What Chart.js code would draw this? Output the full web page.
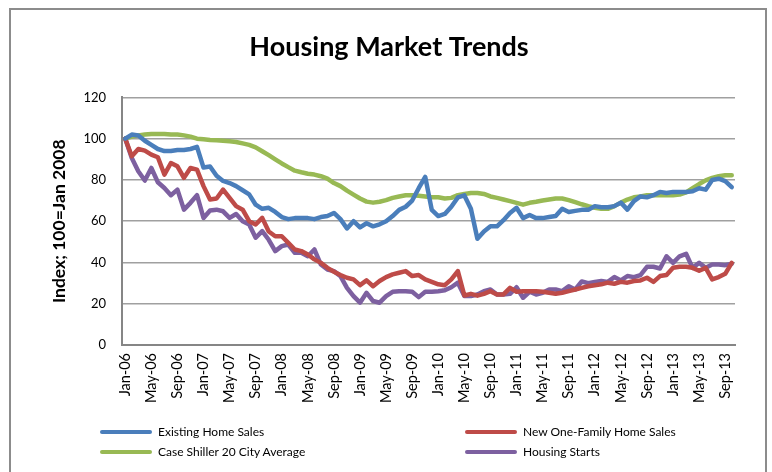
<!DOCTYPE html>
<html>
<head>
<meta charset="utf-8">
<title>Housing Market Trends</title>
<script src="https://cdn.jsdelivr.net/npm/chart.js@4.4.0/dist/chart.umd.min.js"></script>
<style>
  html, body { margin: 0; padding: 0; background: #fff; }
  #wrap { position: relative; width: 772px; height: 472px; overflow: hidden; }
  #frame {
    position: absolute; left: 9px; top: 8px; width: 758px; height: 490px;
    border: 2px solid #8c8c8c; box-sizing: border-box;
  }
  #chart { position: absolute; left: 0; top: 0; }
  .legend-item {
    position: absolute; display: flex; align-items: center;
    font-family: Lato, sans-serif; font-size: 12px; color: #000;
  }
  .legend-line { width: 52px; height: 4px; border-radius: 2px; margin-right: 6px; }
</style>
</head>
<body>
<div id="wrap">
  <div id="frame"></div>
  <canvas id="chart" width="772" height="472"></canvas>
</div>
<script>
// Housing market index series, Jan-06 .. Oct-13
const monthNames = ['Jan', 'Feb', 'Mar', 'Apr', 'May', 'Jun', 'Jul', 'Aug', 'Sep', 'Oct', 'Nov', 'Dec'];
const years = ['06', '07', '08', '09', '10', '11', '12', '13'];
const lastMonthIndex = 9; // data stops at Oct-13

const existingHomeSales = [
  100, 102, 101.5, 99, 97, 95, 94, 94, 94.5, 94.5, 95, 96,
  86, 86.5, 82, 79.5, 78.5, 77, 75, 73, 68, 66, 66.5, 64.5,
  62, 61, 61.5, 61.5, 61.5, 61, 62, 62.5, 64, 61, 56.5, 60,
  57, 59, 57.5, 58.5, 60, 62.5, 65.5, 67, 70, 76, 81.5, 65.5,
  62.5, 63.5, 67, 71.5, 72.5, 66, 51.5, 55, 57.5, 57.5, 60.5, 64,
  66.5, 61.5, 63, 61.5, 61.5, 62, 62.5, 66, 64.5, 65, 65.5, 65.5,
  67.3, 66.8, 66.8, 67.3, 69, 65.6, 69.7, 72, 71.6, 72.6, 74.2, 73.7,
  74.2, 74.2, 74.2, 74.5, 76, 75.3, 80, 80.6, 79.4, 76.5
];

const newHomeSales = [
  100, 91.5, 95, 94.2, 92.3, 91, 82.6, 88.2, 86.6, 81, 85.8, 85,
  77, 70.5, 71, 75.3, 71.3, 67.3, 65.6, 60, 58.4, 61.6, 55, 52.7,
  52.7, 49.5, 46.3, 45.5, 43.9, 41.5, 39.8, 37.4, 35.5, 33.9, 32.6, 31.8,
  29, 31.3, 28.5, 31, 32.9, 34.2, 35, 35.8, 33.4, 33.9, 31.8, 30.6,
  29.4, 29, 31.8, 35.8, 24, 24.8, 23.9, 24.8, 26.1, 24.5, 24.5, 27.7,
  25.8, 26.1, 26.1, 26.1, 25.8, 25.3, 24.8, 25.3, 26.1, 26.9, 27.7, 28.5,
  29, 29.4, 30.2, 29.7, 30.6, 30.2, 31, 31.3, 32.6, 30.6, 33.4, 33.9,
  37.4, 37.9, 37.9, 37.4, 36, 37.4, 31.8, 32.9, 34.5, 39.8
];

const caseShiller = [
  100, 101, 101.6, 102, 102.3, 102.3, 102.3, 102, 102, 101.6, 101, 100,
  99.7, 99.4, 99.2, 99, 98.7, 98.4, 97.7, 97, 95.8, 93.9, 92, 90,
  88, 86.2, 84.5, 83.7, 83, 82.6, 81.8, 80.6, 78.5, 77, 74.8, 72.9,
  71, 69.5, 69, 69.4, 70.2, 71.3, 72, 72.6, 72.6, 72.3, 72, 71.6,
  71.6, 71, 71.3, 72.6, 73.2, 73.7, 73.7, 73.2, 72, 71.3, 70.5, 69.7,
  68.9, 68, 68.9, 69.4, 70, 70.5, 71, 71, 70.2, 69.2, 68.2, 67.3,
  66.5, 66, 66, 67.3, 69, 70.5, 71.6, 72, 72.6, 72.6, 72.6, 72.6,
  72.6, 72.9, 74, 76, 78, 79.8, 81, 81.8, 82.3, 82.3
];

const housingStarts = [
  100, 90.6, 84.2, 79.7, 85.8, 78.9, 76.1, 72.6, 75.3, 65.6, 68.9, 72.6,
  61.6, 65.2, 65.6, 64.8, 61.6, 63.5, 60, 58.4, 52, 55.2, 51, 45.5,
  47.9, 48.7, 44.7, 44.7, 43, 46.3, 39, 36.6, 35.8, 33.4, 27.7, 23.7,
  20.5, 25.3, 21.3, 20.5, 23.7, 25.8, 26.1, 26.1, 25.8, 23.2, 25.8, 25.8,
  26.1, 26.5, 28, 30.2, 23.7, 23.7, 24.5, 26.1, 26.9, 24.5, 24.5, 24.8,
  28, 22.9, 25.8, 24.5, 25.3, 26.9, 26.9, 26.1, 28.5, 26.9, 30.8, 30,
  30.6, 31, 30.6, 32.9, 31.3, 33.4, 32.9, 33.9, 37.9, 37.9, 37.1, 43,
  39.8, 43, 44.2, 37.4, 39.8, 37.4, 39, 39, 38.7, 39.4
];

const seriesNames = ['Existing Home Sales', 'New One-Family Home Sales', 'Case Shiller 20 City Average', 'Housing Starts'];
const seriesColors = ['#4a7ebb', '#be4b48', '#98b954', '#7d60a0'];
const yTicks = [0, 20, 40, 60, 80, 100, 120];

// Build month labels Jan-06 .. Oct-13
const labels = [];
years.forEach((yy, yi) => {
  monthNames.forEach((m, mi) => {
    if (yi === years.length - 1 && mi > lastMonthIndex) return;
    labels.push(m + '-' + yy);
  });
});

const seriesData = [existingHomeSales, newHomeSales, caseShiller, housingStarts];

const datasets = seriesData.map((values, i) => ({
  label: seriesNames[i],
  data: values,
  borderColor: seriesColors[i],
  backgroundColor: seriesColors[i],
  borderWidth: 4.5,
  pointRadius: 0,
  tension: 0,
  borderJoinStyle: 'round',
  borderCapStyle: 'round',
  fill: false
}));

const chart = new Chart(document.getElementById('chart').getContext('2d'), {
  type: 'line',
  data: { labels: labels, datasets: datasets },
  options: {
    responsive: false,
    animation: false,
    layout: { padding: { left: 6, right: 0, top: 0, bottom: 0 } },
    plugins: {
      legend: { display: false },
      tooltip: { enabled: false },
      title: {
        display: true,
        text: 'Housing Market Trends',
        color: '#000',
        font: { family: 'Lato', size: 27, weight: 'bold' },
        padding: { top: 31, bottom: 34 }
      }
    },
    scales: {
      x: {
        type: 'category',
        offset: true,
        grid: { display: false, drawTicks: false },
        border: { display: true, color: '#868686', width: 2 },
        ticks: {
          autoSkip: false,
          minRotation: 90,
          maxRotation: 90,
          padding: 8,
          color: '#000',
          font: { family: 'Lato', size: 14.5 },
          callback: function(value, index) {
            return index % 4 === 0 ? labels[index] : null;
          }
        },
        afterFit: function(scale) { scale.height = 127; }
      },
      y: {
        min: 0,
        max: 120,
        afterBuildTicks: function(scale) {
          scale.ticks = yTicks.map(v => ({ value: v }));
        },
        grid: { color: '#a0a0a0', lineWidth: 1.5, drawTicks: false },
        border: { display: true, color: '#868686', width: 2 },
        ticks: {
          padding: 16,
          color: '#000',
          font: { family: 'Lato', size: 13 }
        },
        title: {
          display: true,
          text: 'Index; 100=Jan 2008',
          color: '#000',
          font: { family: 'Lato', size: 17.5, weight: 'bold' },
          padding: { top: 43, bottom: 0 }
        },
        afterFit: function(scale) { scale.width = 116; }
      },
      // empty spacer on the right so the plot ends where the reference does
      spacer: {
        type: 'linear',
        position: 'right',
        display: true,
        grid: { display: false, drawTicks: false },
        border: { display: false },
        ticks: { display: false },
        afterFit: function(scale) { scale.width = 37; }
      }
    }
  }
});

// Two-column legend under the chart, built from the datasets
const legendSpots = [[100, 432], [465, 432], [100, 452], [465, 452]];
const wrap = document.getElementById('wrap');
chart.data.datasets.forEach((ds, i) => {
  const item = document.createElement('div');
  item.className = 'legend-item';
  item.style.left = legendSpots[i][0] + 'px';
  item.style.top = (legendSpots[i][1] - 8) + 'px';
  const line = document.createElement('div');
  line.className = 'legend-line';
  line.style.backgroundColor = ds.borderColor;
  const text = document.createElement('span');
  text.textContent = ds.label;
  item.appendChild(line);
  item.appendChild(text);
  wrap.appendChild(item);
});
</script>
</body>
</html>
